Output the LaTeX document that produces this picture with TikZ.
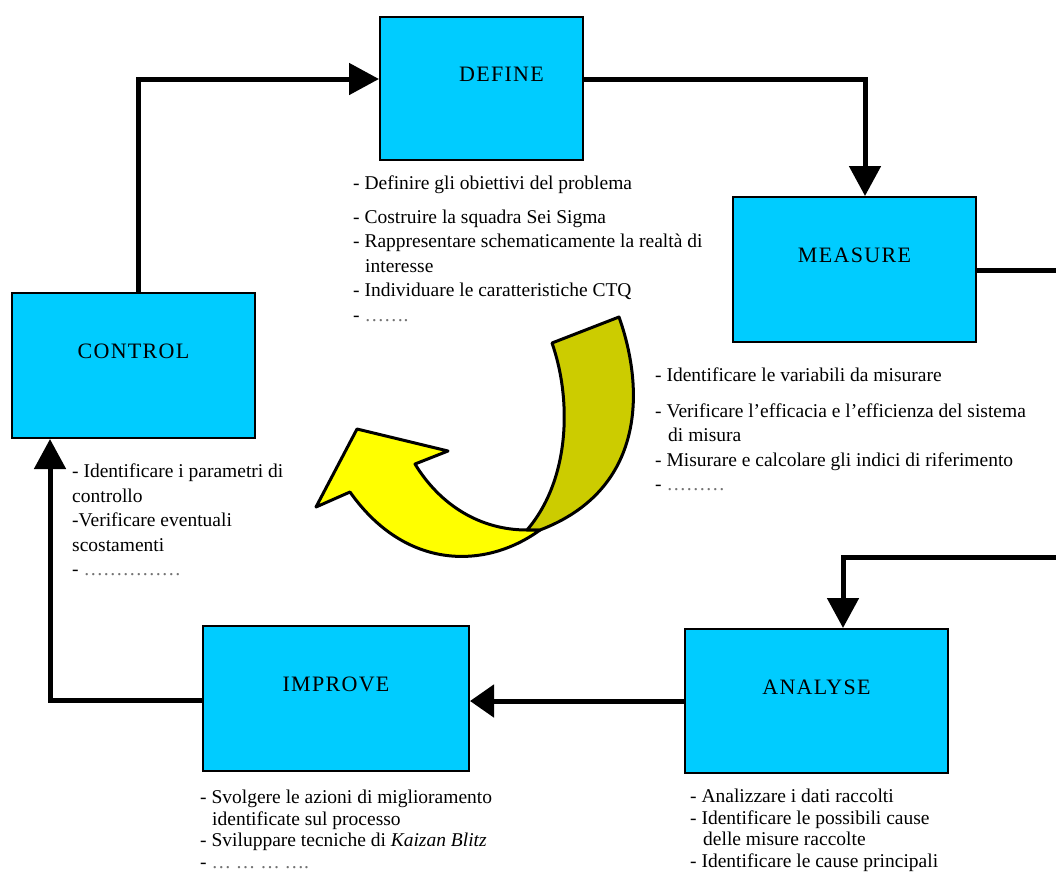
\documentclass[tikz,border=0pt]{standalone}
\usepackage{fontspec}
\setmainfont{Liberation Serif}
\newfontfamily\phasefont[LetterSpace=6.0]{Liberation Serif}
\usetikzlibrary{arrows.meta}
\definecolor{phasecyan}{RGB}{0,204,255}
\definecolor{ribbonyellow}{RGB}{255,255,0}
\definecolor{ribbonolive}{RGB}{204,204,0}
\definecolor{dotgray}{RGB}{115,115,115}
\tikzset{
  phase/.style={draw, line width=2pt, fill=phasecyan, inner sep=0pt,
    font=\phasefont\fontsize{22}{22}\selectfont,
    text height=14.5pt, text depth=28pt},
  notes/.style={anchor=north west, align=left, inner sep=0pt,
    font=\fontsize{19.5}{24.5}\selectfont},
  flow/.style={line width=5pt, -{Triangle[length=30pt,width=31pt]}},
  ribbon/.style={draw, line width=3pt, line join=round}
}
\newcommand{\dotrow}[1]{{\color{dotgray}#1}}

\begin{document}
\begin{tikzpicture}[x=1pt,y=-1pt]
  \useasboundingbox[fill=white] (0,0) rectangle (1056,876);

  \node[phase, minimum width=203pt, minimum height=143pt] (define)
    at (481.5,88.5) {\hspace*{40pt}DEFINE};
  \node[phase, minimum width=243pt, minimum height=145pt] (measure)
    at (854.5,269.5) {MEASURE};
  \node[phase, minimum width=243pt, minimum height=145pt] (control)
    at (133.5,365.5) {CONTROL};
  \node[phase, minimum width=266pt, minimum height=145pt] (improve)
    at (336,698.5) {IMPROVE};
  \node[phase, minimum width=263pt, minimum height=144pt] (analyse)
    at (816.5,701) {ANALYSE};

  \node[notes] (definenotes) at (353,176) {
    - Definire gli obiettivi del problema\\[9pt]
    - Costruire la squadra Sei Sigma\\
    - Rappresentare schematicamente la realtà di\\
    \hspace*{12pt}interesse\\
    - Individuare le caratteristiche CTQ\\
    - \dotrow{…….}};
  \node[notes] (measurenotes) at (655,368) {
    - Identificare le variabili da misurare\\[11pt]
    - Verificare l’efficacia e l’efficienza del sistema\\
    \hspace*{13pt}di misura\\
    - Misurare e calcolare gli indici di riferimento\\
    - \dotrow{………}};
  \node[notes] (controlnotes) at (72,464) {
    - Identificare i parametri di\\
    controllo\\
    -Verificare eventuali\\
    scostamenti\\
    - \dotrow{……………}};
  \node[notes, font=\fontsize{19.5}{21.5}\selectfont] (improvenotes) at (200,790) {
    - Svolgere le azioni di miglioramento\\
    \hspace*{12pt}identificate sul processo\\
    - Sviluppare tecniche di \textit{Kaizan Blitz}\\
    - \dotrow{… … … ….}};
  \node[notes, font=\fontsize{19.5}{21.5}\selectfont] (analysenotes) at (690,789) {
    - Analizzare i dati raccolti\\
    - Identificare le possibili cause\\
    \hspace*{13pt}delle misure raccolte\\
    - Identificare le cause principali};

  \coordinate (d2m) at (865,79);
  \coordinate (m2out) at (1060,270);
  \coordinate (in2a) at (1060,557);
  \coordinate (a2bend) at (843,557);
  \coordinate (i2c) at (50,700);
  \coordinate (c2d) at (138,79);

  \draw[flow] (define.east |- d2m) -- (d2m) -- (measure.north -| d2m);
  \draw[line width=5pt] (measure.east |- m2out) -- (m2out);
  \draw[flow] (in2a) -- (a2bend) -- (analyse.north -| a2bend);
  \draw[line width=5pt, -{Triangle[length=24pt,width=32pt]}]
    (analyse.west) -- (improve.east |- analyse.west);
  \draw[flow] (improve.west |- i2c) -- (i2c) -- (control.south -| i2c);
  \draw[flow] (control.north -| c2d) -- (c2d) -- (define.west |- c2d);

  \path[ribbon, fill=ribbonolive] (552,343) -- (619,317)
    .. controls (645,390) and (645,490) .. (540,530) -- (527,530)
    .. controls (570,480) and (572,400) .. cycle;
  \path[ribbon, fill=ribbonyellow] (540,530)
    .. controls (485,570) and (405,570) .. (350,492) -- (316,507)
    -- (357,429) -- (448,451) -- (415,464)
    .. controls (440,505) and (480,530) .. (527,530) -- cycle;
\end{tikzpicture}
\end{document}
